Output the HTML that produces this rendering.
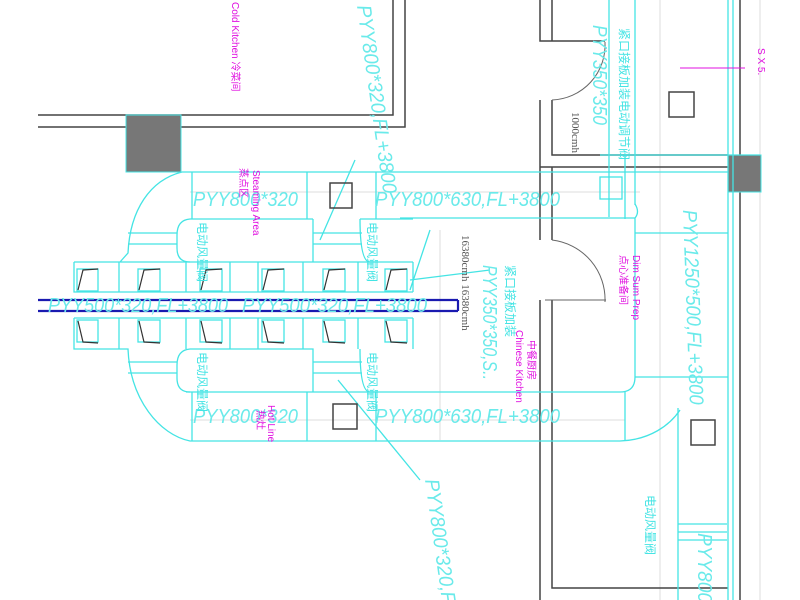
<!DOCTYPE html>
<html><head><meta charset="utf-8"><style>
html,body{margin:0;padding:0;background:#fff;width:800px;height:600px;overflow:hidden}
svg{display:block}
.c{stroke:#44e4e4;fill:none;stroke-width:1.3}
.d{stroke:#444;fill:none;stroke-width:1.5}
.g{stroke:#ddd;fill:none;stroke-width:1}
.t{fill:#6aeaea;font-family:"Liberation Sans",sans-serif;font-style:italic;font-weight:normal}
.m{fill:#e010e0;font-family:"Liberation Sans","Noto Sans CJK SC",sans-serif;font-size:10px}
.k{fill:#44e4e4;font-family:"Noto Sans CJK SC",sans-serif;font-size:12px}
.gt{fill:#555;font-family:"Liberation Serif",serif;font-size:11px}
</style></head><body>
<svg width="800" height="600" viewBox="0 0 800 600" xmlns="http://www.w3.org/2000/svg">
<path class="g" d="M190 192H640M190 420H625M440 230V440M760 0V600M660 0V600"/>
<path class="d" d="M393 0V115H38M405 0V127H38"/>
<rect x="126" y="115" width="55" height="57" fill="#777" stroke="#44e4e4"/>
<path class="d" d="M540 0V41H605M552 0V41M540 100V167H728M552 100V155H728M540 240V167M552 240V167M540 300V600M552 300V588H728M740 0V600"/>
<path d="M605 42A55 55 0 0 1 552 100" stroke="#666" fill="none"/>
<path d="M552 240A60 60 0 0 1 605 302M545 300H606" stroke="#666" fill="none"/>
<rect x="728" y="155" width="33" height="37" fill="#777" stroke="#44e4e4"/>
<path d="M38 300H458M38 311H458M458 300V311" stroke="#1a1ab0" stroke-width="2.2" fill="none"/>
<path class="c" d="M182 172H728M182 172C150 180 130 210 128 253L120 262M74 262H413M74 262V292H413M74 318H413M74 318V349H120L128 349C130 400 160 435 190 441H620C650 440 670 425 680 410"/>
<path class="c" d="M119 262V292M186 262V292M230 262V292M258 262V292M303 262V292M358 262V292M413 262V292M119 318V349M186 318V349M230 318V349M258 318V349M303 318V349M358 318V349M413 318V349"/>
<path class="c" d="M400 218H635V377Q635 392 620 392H186M635 218Q640 212 635 204"/>
<path class="c" d="M192 172V219M307 172V219M376 172V219M625 155V219M609 0V217M635 0V205M192 392V441M307 392V441M376 392V441M625 392V441"/>
<path class="c" d="M190 219H313M190 219Q177 220 177 235V248Q177 262 190 262M313 219V262M360 219H413M360 219Q360 262 370 262M128 233H177M128 244H177M313 233H362M313 244H362"/>
<path class="c" d="M190 349H313V392M190 349Q177 350 177 365V378Q177 392 190 392M128 362H177M128 373H177M313 362H362M313 373H362M360 349Q360 392 370 392"/>
<path class="c" d="M728 0V600M733 0V600M600 155H760M635 233H728M635 377H728M678 408V600M678 524H727M678 532H727M678 540H727"/>
<path class="c" d="M355 160L320 240M338 380L420 480M410 280L490 270M430 230L410 290"/>
<g class="c" stroke-width="1">
<rect x="77" y="269" width="21" height="22"/><rect x="138" y="269" width="22" height="22"/><rect x="200" y="269" width="22" height="22"/><rect x="262" y="269" width="22" height="22"/><rect x="323" y="269" width="22" height="22"/><rect x="385" y="269" width="22" height="22"/>
<rect x="77" y="320" width="21" height="22"/><rect x="138" y="320" width="22" height="22"/><rect x="200" y="320" width="22" height="22"/><rect x="262" y="320" width="22" height="22"/><rect x="323" y="320" width="22" height="22"/><rect x="385" y="320" width="22" height="22"/>
<rect x="600" y="177" width="22" height="22"/>
</g>
<g stroke="#333" fill="none" stroke-width="1.2">
<path d="M78 290L83 270L98 269M139 290L144 270L160 269M201 290L206 270L222 269M263 290L268 270L284 269M324 290L329 270L345 269M386 290L391 270L407 269"/>
<path d="M78 321L83 342L98 343M139 321L144 342L160 343M201 321L206 342L222 343M263 321L268 342L284 343M324 321L329 342L345 343M386 321L391 342L407 343"/>
</g>
<g class="d" stroke-width="1.3">
<rect x="330" y="183" width="22" height="25"/><rect x="333" y="404" width="24" height="25"/><rect x="669" y="92" width="25" height="25"/><rect x="691" y="420" width="24" height="25"/>
</g>
<path d="M680 68H745" stroke="#e010e0"/>
<g class="t" font-size="20">
<text x="48" y="312" textLength="180" lengthAdjust="spacingAndGlyphs">PYY500*320,FL+3800</text>
<text x="242" y="312" textLength="185" lengthAdjust="spacingAndGlyphs">PYY500*320,FL+3800</text>
<text x="193" y="206" textLength="105" lengthAdjust="spacingAndGlyphs">PYY800*320</text>
<text x="375" y="206" textLength="185" lengthAdjust="spacingAndGlyphs">PYY800*630,FL+3800</text>
<text x="193" y="423" textLength="105" lengthAdjust="spacingAndGlyphs">PYY800*320</text>
<text x="375" y="423" textLength="185" lengthAdjust="spacingAndGlyphs">PYY800*630,FL+3800</text>
<text transform="translate(357,6) rotate(82)" textLength="190" lengthAdjust="spacingAndGlyphs">PYY800*320,FL+3800</text>
<text transform="translate(683,210) rotate(88)" textLength="195" lengthAdjust="spacingAndGlyphs">PYY1250*500,FL+3800</text>
<text transform="translate(593,25) rotate(90)" textLength="100" lengthAdjust="spacingAndGlyphs">PYY350*350</text>
<text transform="translate(483,265) rotate(90)" textLength="115" lengthAdjust="spacingAndGlyphs">PYY350*350,S..</text>
<text transform="translate(425,480) rotate(82)" textLength="125" lengthAdjust="spacingAndGlyphs">PYY800*320,F</text>
<text transform="translate(698,533) rotate(90)" textLength="70" lengthAdjust="spacingAndGlyphs">PYY800</text>
</g>
<g class="k">
<text transform="translate(620,28) rotate(90)" textLength="132" lengthAdjust="spacingAndGlyphs">紧口接板加装电动调节阀</text>
<text transform="translate(506,265) rotate(90)">紧口接板加装</text>
<text transform="translate(198,222) rotate(90)">电动风量阀</text>
<text transform="translate(368,222) rotate(90)">电动风量阀</text>
<text transform="translate(198,352) rotate(90)">电动风量阀</text>
<text transform="translate(368,352) rotate(90)">电动风量阀</text>
<text transform="translate(646,495) rotate(90)">电动风量阀</text>
</g>
<g class="gt">
<text transform="translate(462,235) rotate(90)">16380cmh 16380cmh</text>
<text transform="translate(572,112) rotate(90)">1000cmh</text>
</g>
<g class="m">
<text transform="translate(253,170) rotate(90)">Steaming  Area</text>
<text transform="translate(240,168) rotate(90)">蒸点区</text>
<text transform="translate(232,2) rotate(90)">Cold Kitchen 冷菜间</text>
<text transform="translate(633,255) rotate(90)">Dim Sum Prep</text>
<text transform="translate(620,255) rotate(90)">点心准备间</text>
<text transform="translate(268,405) rotate(90)">Hot Line</text>
<text transform="translate(257,410) rotate(90)">热灶</text>
<text transform="translate(528,340) rotate(90)">中餐厨房</text>
<text transform="translate(516,330) rotate(90)">Chinese Kitchen</text>
<text transform="translate(758,48) rotate(90)">S X 5.</text>
</g>
</svg>
</body></html>
